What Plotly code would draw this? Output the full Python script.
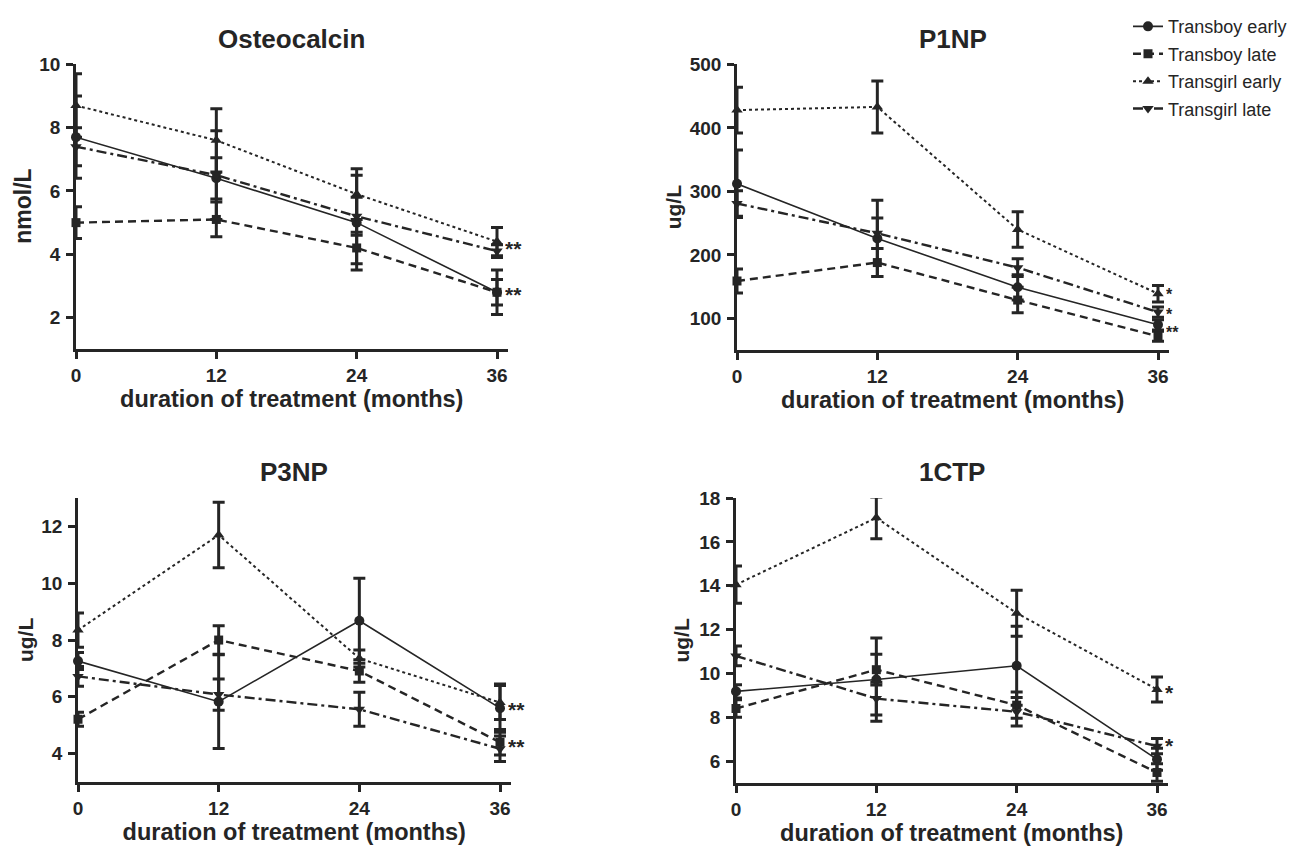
import plotly.graph_objects as go

months = [0, 12, 24, 36]
series_names = ["Transboy early", "Transboy late", "Transgirl early", "Transgirl late"]
panel_titles = ["Osteocalcin", "P1NP", "P3NP", "1CTP"]
y_titles = ["nmol/L", "ug/L", "ug/L", "ug/L"]

# Osteocalcin
osteo_tb_early = [7.7, 6.4, 5.0, 2.8]
osteo_tb_early_err = [1.3, 0.65, 1.5, 0.7]
osteo_tb_late = [5.0, 5.1, 4.2, 2.8]
osteo_tb_late_err = [0.5, 0.55, 0.5, 0.4]
osteo_tg_early = [8.7, 7.6, 5.9, 4.4]
osteo_tg_early_err = [1.0, 1.0, 0.8, 0.45]
osteo_tg_late = [7.4, 6.5, 5.2, 4.1]
osteo_tg_late_err = [0.6, 1.4, 0.6, 0.2]

# P1NP
p1np_tb_early = [312, 226, 149, 90]
p1np_tb_early_err = [53, 60, 20, 8]
p1np_tb_late = [159, 188, 129, 72]
p1np_tb_late_err = [19, 22, 20, 8]
p1np_tg_early = [428, 433, 240, 139]
p1np_tg_early_err = [36, 41, 28, 13]
p1np_tg_late = [281, 234, 180, 110]
p1np_tg_late_err = [20, 24, 14, 8]

# P3NP
p3np_tb_early = [7.26, 5.83, 8.68, 5.6]
p3np_tb_early_err = [0.3, 1.65, 1.5, 0.85]
p3np_tb_late = [5.21, 8.0, 6.91, 4.4]
p3np_tb_late_err = [0.25, 0.5, 0.4, 0.45]
p3np_tg_early = [8.35, 11.7, 7.35, 5.8]
p3np_tg_early_err = [0.6, 1.15, 0.3, 0.6]
p3np_tg_late = [6.72, 6.08, 5.56, 4.17]
p3np_tg_late_err = [0.35, 0.55, 0.6, 0.45]

# 1CTP
ctp_tb_early = [9.18, 9.72, 10.35, 6.08]
ctp_tb_early_err = [0.3, 1.9, 1.8, 0.5]
ctp_tb_late = [8.4, 10.17, 8.55, 5.48]
ctp_tb_late_err = [0.4, 0.7, 0.6, 0.4]
ctp_tg_early = [14.05, 17.1, 12.75, 9.27]
ctp_tg_early_err = [0.85, 0.95, 1.05, 0.57]
ctp_tg_late = [10.8, 8.85, 8.25, 6.68]
ctp_tg_late_err = [0.45, 0.75, 0.65, 0.35]

panel_data = [
    [(osteo_tb_early, osteo_tb_early_err), (osteo_tb_late, osteo_tb_late_err),
     (osteo_tg_early, osteo_tg_early_err), (osteo_tg_late, osteo_tg_late_err)],
    [(p1np_tb_early, p1np_tb_early_err), (p1np_tb_late, p1np_tb_late_err),
     (p1np_tg_early, p1np_tg_early_err), (p1np_tg_late, p1np_tg_late_err)],
    [(p3np_tb_early, p3np_tb_early_err), (p3np_tb_late, p3np_tb_late_err),
     (p3np_tg_early, p3np_tg_early_err), (p3np_tg_late, p3np_tg_late_err)],
    [(ctp_tb_early, ctp_tb_early_err), (ctp_tb_late, ctp_tb_late_err),
     (ctp_tg_early, ctp_tg_early_err), (ctp_tg_late, ctp_tg_late_err)],
]

y_ranges = [[1, 10], [50, 500], [3, 13], [5, 18]]
y_ticks = [[2, 4, 6, 8, 10], [100, 200, 300, 400, 500], [4, 6, 8, 10, 12], [6, 8, 10, 12, 14, 16, 18]]
x_range = [0, 36.9]

# significance marks
sig_panel = [0, 0, 1, 1, 1, 2, 2, 3, 3]
sig_y = [4.35, 2.9, 145, 114, 85, 5.75, 4.43, 9.38, 6.98]
sig_text = ["**", "**", "*", "*", "**", "**", "**", "*", "*"]

# page has an 8px body margin; figure sized to fit the window
OFF = 8
W, H = 1302 - OFF, 851 - OFF

def px_x(X):
    return (X - OFF) / W

def px_y(Y):
    return 1 - (Y - OFF) / H

# panel boxes in screen pixels: (x of month 0, x of month 36, top, bottom)
boxes = [(76, 497, 53, 342), (737, 1158, 53, 343), (78, 500, 493, 781), (736, 1157, 493, 782)]
ytitle_x = [23, 673, 25, 682]
ytitle_size = [23, 21, 21, 21]
sig_size = [21, 16, 21, 21]

ink = "#252525"
symbols = ["circle", "square", "triangle-up", "triangle-down"]
dashes = ["solid", "8px,5px", "3px,3px", "10px,4px,3px,4px"]
widths = [1.6, 2.4, 2.0, 2.4]
msizes = [10, 9, 10, 10]

fig = go.Figure()
FONT = "Liberation Sans, Arial, sans-serif"

for p in range(4):
    suffix = "" if p == 0 else str(p + 1)
    for s in range(4):
        vals, errs = panel_data[p][s]
        fig.add_trace(go.Scatter(
            x=months, y=vals,
            xaxis="x" + suffix, yaxis="y" + suffix,
            mode="lines+markers",
            name=series_names[s],
            legendgroup=series_names[s],
            showlegend=(p == 0),
            line=dict(color=ink, width=widths[s], dash=dashes[s]),
            marker=dict(symbol=symbols[s], size=msizes[s], color=ink),
            error_y=dict(type="data", array=errs, visible=True, color=ink, thickness=3, width=6),
            cliponaxis=False,
        ))
    x0, x36, t, b = boxes[p]
    right = x0 + (x36 - x0) / 36 * x_range[1]
    xd = [px_x(x0), px_x(right)]
    yd = [px_y(b), px_y(t)]
    axis_common = dict(showline=True, linewidth=2.5, linecolor=ink, showgrid=False, zeroline=False,
                       ticks="outside", ticklen=7, tickwidth=2.5, tickcolor=ink, automargin=False,
                       tickfont=dict(family=FONT, size=19, color=ink, weight=700))
    fig.layout["xaxis" + suffix] = dict(
        domain=xd, range=x_range, tickvals=months, anchor="y" + suffix,
        title=dict(text="duration of treatment (months)", font=dict(family=FONT, size=23.5, color=ink, weight=700), standoff=6),
        **axis_common)
    fig.layout["yaxis" + suffix] = dict(
        domain=yd, range=y_ranges[p], tickvals=y_ticks[p], anchor="x" + suffix, ticklabelstandoff=2,
        **axis_common)
    fig.add_annotation(text=panel_titles[p], xref="paper", yref="paper",
                       x=px_x((x0 + right) / 2), y=px_y(t - 26), showarrow=False,
                       font=dict(family=FONT, size=26, color=ink, weight=700),
                       xanchor="center", yanchor="middle")
    fig.add_annotation(text=y_titles[p], xref="paper", yref="paper", textangle=-90,
                       x=px_x(ytitle_x[p]), y=px_y((t + b) / 2), showarrow=False,
                       font=dict(family=FONT, size=ytitle_size[p], color=ink, weight=700),
                       xanchor="center", yanchor="middle", borderpad=0)

for k in range(len(sig_text)):
    p = sig_panel[k]
    suffix = "" if p == 0 else str(p + 1)
    fs = sig_size[p]
    fig.add_annotation(text=sig_text[k], x=36, y=sig_y[k], xref="x" + suffix, yref="y" + suffix,
                       showarrow=False, xanchor="left", yanchor="middle", xshift=7, yshift=-round(fs * 0.22),
                       height=12, borderpad=0, valign="middle",
                       font=dict(family=FONT, size=fs, color=ink, weight=700))

fig.update_layout(
    width=W, height=H,
    margin=dict(l=0, r=0, t=0, b=0),
    paper_bgcolor="white", plot_bgcolor="white",
    showlegend=True,
    legend=dict(x=px_x(1128), y=px_y(-4), xanchor="left", yanchor="top",
                font=dict(family=FONT, size=18, color=ink),
                tracegroupgap=1, itemwidth=30, bgcolor="rgba(0,0,0,0)"),
)

fig.write_html("out.html")
